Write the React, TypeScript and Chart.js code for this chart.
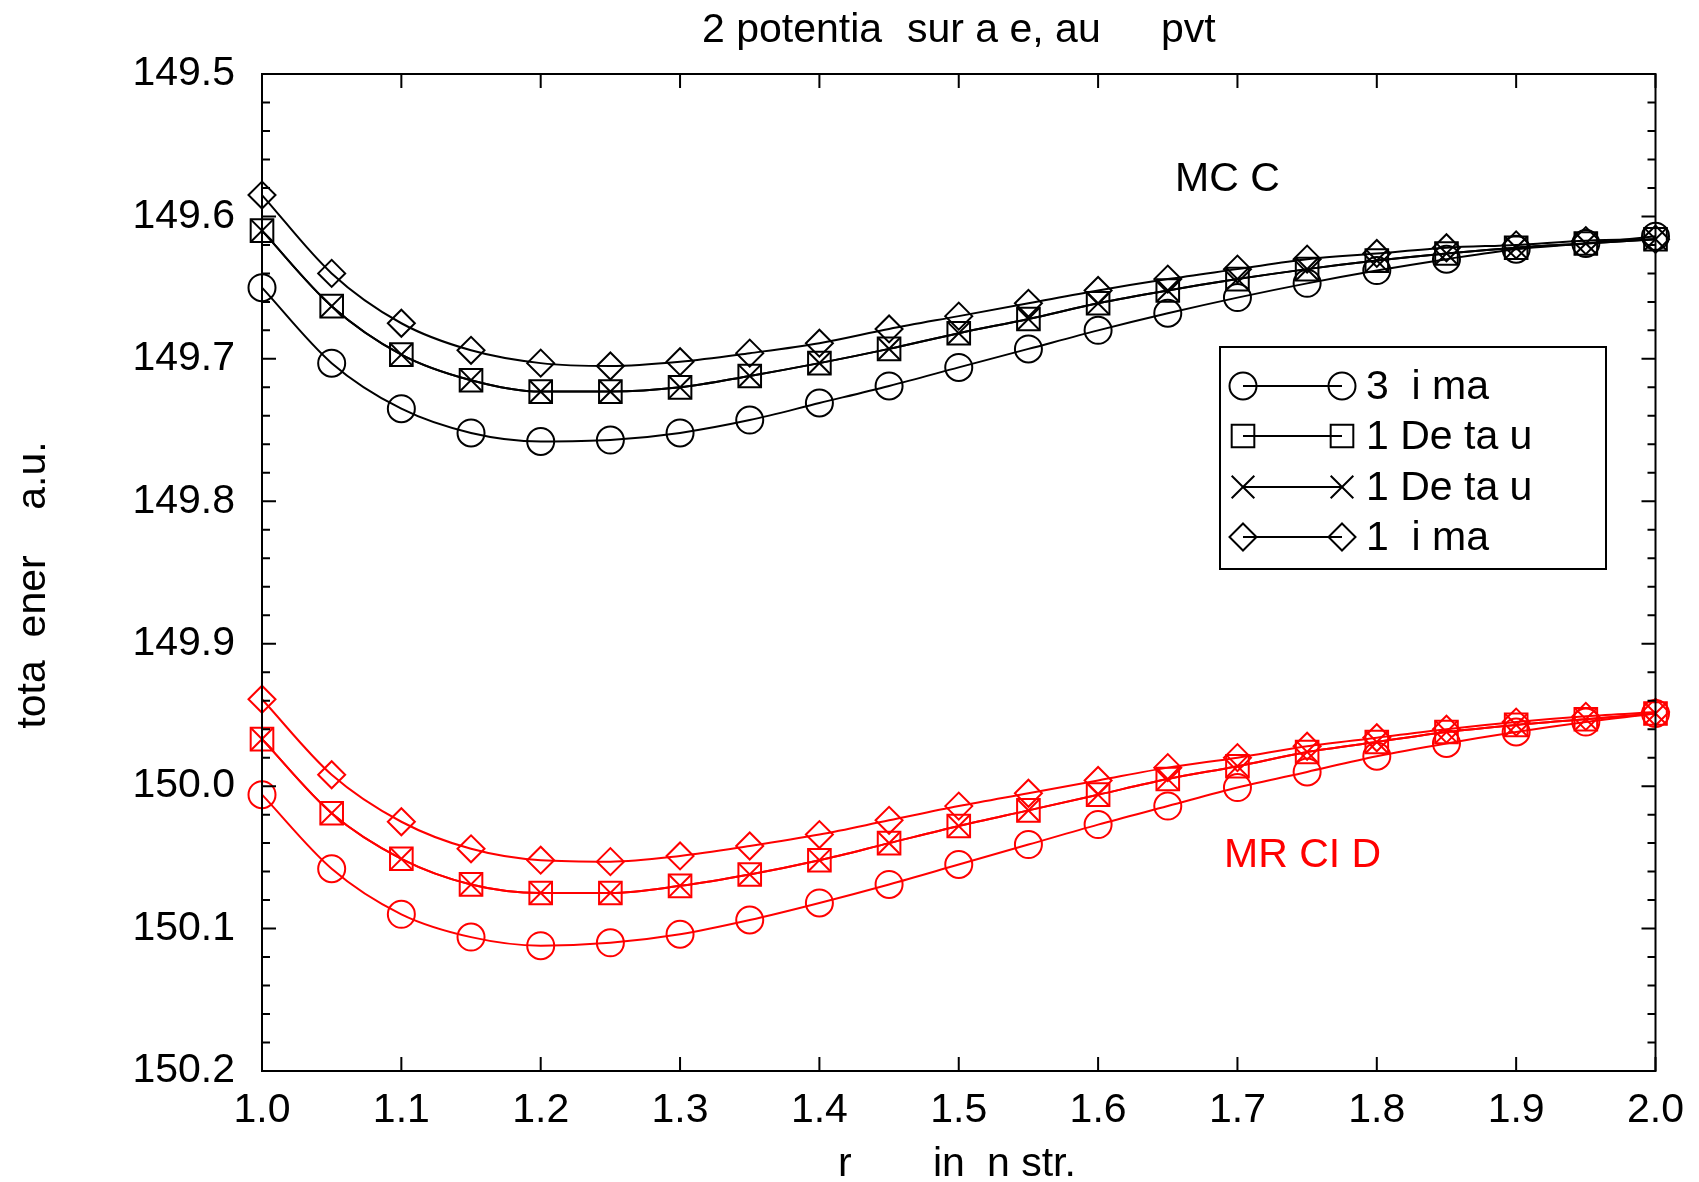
import React, { useEffect, useRef } from 'react';
import { Chart, registerables } from 'chart.js';

Chart.register(...registerables);

// ---------- data ----------
const rValues = [1.0, 1.05, 1.1, 1.15, 1.2, 1.25, 1.3, 1.35, 1.4, 1.45, 1.5, 1.55, 1.6, 1.65, 1.7, 1.75, 1.8, 1.85, 1.9, 1.95, 2.0];

// MC C (black)
const mcTriplet = [149.650, 149.703, 149.735, 149.752, 149.758, 149.757, 149.752, 149.743, 149.731, 149.719, 149.706, 149.693, 149.680, 149.668, 149.657, 149.647, 149.638, 149.630, 149.623, 149.619, 149.614];
const mcDeltaSquare = [149.610, 149.663, 149.697, 149.715, 149.723, 149.723, 149.720, 149.712, 149.703, 149.693, 149.682, 149.672, 149.661, 149.652, 149.644, 149.637, 149.631, 149.626, 149.622, 149.619, 149.616];
const mcDeltaCross = [149.610, 149.663, 149.697, 149.715, 149.723, 149.723, 149.720, 149.712, 149.703, 149.693, 149.682, 149.672, 149.661, 149.652, 149.644, 149.637, 149.631, 149.626, 149.622, 149.619, 149.616];
const mcSinglet = [149.585, 149.640, 149.675, 149.694, 149.703, 149.705, 149.702, 149.696, 149.689, 149.679, 149.670, 149.661, 149.652, 149.644, 149.637, 149.630, 149.626, 149.622, 149.620, 149.617, 149.616];

// MR CI D (red)
const mrTriplet = [150.006, 150.058, 150.090, 150.106, 150.112, 150.110, 150.104, 150.094, 150.082, 150.069, 150.055, 150.041, 150.027, 150.014, 150.001, 149.990, 149.979, 149.970, 149.962, 149.955, 149.949];
const mrDeltaSquare = [149.967, 150.019, 150.051, 150.069, 150.075, 150.075, 150.070, 150.062, 150.052, 150.040, 150.028, 150.017, 150.006, 149.995, 149.986, 149.976, 149.969, 149.962, 149.957, 149.953, 149.949];
const mrDeltaCross = [149.967, 150.019, 150.051, 150.069, 150.075, 150.075, 150.070, 150.062, 150.052, 150.040, 150.028, 150.017, 150.006, 149.995, 149.986, 149.976, 149.969, 149.962, 149.957, 149.953, 149.949];
const mrSinglet = [149.939, 149.992, 150.025, 150.044, 150.052, 150.053, 150.049, 150.042, 150.034, 150.024, 150.014, 150.005, 149.996, 149.987, 149.980, 149.972, 149.966, 149.960, 149.955, 149.951, 149.948];

const seriesLabels = ['3  i ma', '1 De ta u', '1 De ta u', '1  i ma'];
const pointStyles = ['circle', 'rect', 'crossRot', 'rectRot'];
const pointRadii = [13.5, 16, 16, 13.5];

const xTickValues = [1.0, 1.1, 1.2, 1.3, 1.4, 1.5, 1.6, 1.7, 1.8, 1.9, 2.0];
const yMajorValues = [149.5, 149.6, 149.7, 149.8, 149.9, 150.0, 150.1, 150.2];

const titleParts = ['2 potentia', 'sur a e, au', 'pvt'];
const xTitleParts = ['r', 'in', 'n str.'];
const yTitle = 'tota  ener    a.u.';
const mcLabel = 'MC C';
const mrLabel = 'MR CI D';

const FONT = '"Liberation Sans", Arial, Helvetica, sans-serif';
const FS = 41;

function drawMarker(ctx: CanvasRenderingContext2D, style: string, x: number, y: number) {
  ctx.beginPath();
  if (style === 'circle') {
    ctx.arc(x, y, 13.5, 0, Math.PI * 2);
  } else if (style === 'rect') {
    const h = 16 * Math.SQRT1_2;
    ctx.rect(x - h, y - h, 2 * h, 2 * h);
  } else if (style === 'crossRot') {
    const h = 16 * Math.SQRT1_2;
    ctx.moveTo(x - h, y - h); ctx.lineTo(x + h, y + h);
    ctx.moveTo(x - h, y + h); ctx.lineTo(x + h, y - h);
  } else if (style === 'rectRot') {
    const r = 13.5;
    ctx.moveTo(x, y - r); ctx.lineTo(x + r, y); ctx.lineTo(x, y + r); ctx.lineTo(x - r, y); ctx.closePath();
  }
  ctx.stroke();
}

const decorPlugin = {
  id: 'decor',
  afterDraw(chart: any) {
    const { ctx, chartArea, scales } = chart;
    const { left, right, top, bottom } = chartArea;
    const xs = scales.x;
    const ys = scales.y;
    ctx.save();
    ctx.strokeStyle = '#000';
    ctx.lineWidth = 2;
    ctx.strokeRect(left, top, right - left, bottom - top);

    // y ticks (major 0.1, minor 0.02), inward on both sides
    for (let k = 0; k <= 35; k++) {
      const val = 149.5 + k * 0.02;
      const py = ys.getPixelForValue(val);
      const len = k % 5 === 0 ? 14 : 8;
      ctx.beginPath();
      ctx.moveTo(left, py); ctx.lineTo(left + len, py);
      ctx.moveTo(right, py); ctx.lineTo(right - len, py);
      ctx.stroke();
    }
    // x ticks, inward on bottom and top
    xTickValues.forEach((v) => {
      const px = xs.getPixelForValue(v);
      ctx.beginPath();
      ctx.moveTo(px, bottom); ctx.lineTo(px, bottom - 14);
      ctx.moveTo(px, top); ctx.lineTo(px, top + 14);
      ctx.stroke();
    });

    // texts
    ctx.fillStyle = '#000';
    ctx.font = `${FS}px ${FONT}`;
    ctx.textBaseline = 'alphabetic';
    ctx.textAlign = 'left';
    const titleX = [702, 907, 1161];
    titleParts.forEach((t, i) => ctx.fillText(t, titleX[i], 42));

    const xTitleX = [838, 933, 987];
    xTitleParts.forEach((t, i) => ctx.fillText(t, xTitleX[i], 1176));

    ctx.save();
    ctx.translate(34, 585);
    ctx.rotate(-Math.PI / 2);
    ctx.textAlign = 'center';
    ctx.textBaseline = 'middle';
    ctx.fillText(yTitle, 0, 0);
    ctx.restore();

    ctx.fillText(mcLabel, 1175, 191);
    ctx.fillStyle = '#ff0000';
    ctx.fillText(mrLabel, 1224, 867);

    // legend
    ctx.fillStyle = '#000';
    ctx.strokeStyle = '#000';
    ctx.lineWidth = 2;
    ctx.strokeRect(1220, 347, 386, 222);
    const rowY = [386, 436, 487, 537];
    seriesLabels.forEach((lab, i) => {
      const cy = rowY[i];
      ctx.lineWidth = 2;
      ctx.beginPath();
      ctx.moveTo(1243, cy); ctx.lineTo(1342, cy);
      ctx.stroke();
      drawMarker(ctx, pointStyles[i], 1243, cy);
      drawMarker(ctx, pointStyles[i], 1342, cy);
      ctx.textBaseline = 'middle';
      ctx.textAlign = 'left';
      ctx.fillText(lab, 1366, cy + 2);
    });
    ctx.restore();
  },
};

function makeSet(values: number[], idx: number, color: string) {
  return {
    label: seriesLabels[idx],
    data: rValues.map((r, i) => ({ x: r, y: values[i] })),
    borderColor: color,
    borderWidth: 2,
    pointStyle: pointStyles[idx],
    pointRadius: pointRadii[idx],
    pointBorderWidth: 2,
    pointBorderColor: color,
    pointBackgroundColor: 'rgba(0,0,0,0)',
    backgroundColor: 'rgba(0,0,0,0)',
    fill: false,
    cubicInterpolationMode: 'monotone',
    clip: false,
  };
}

export default function App() {
  const ref = useRef<HTMLCanvasElement | null>(null);
  useEffect(() => {
    if (!ref.current) return;
    const chart = new Chart(ref.current, {
      type: 'line',
      data: {
        datasets: [
          makeSet(mcTriplet, 0, '#000000'),
          makeSet(mcDeltaSquare, 1, '#000000'),
          makeSet(mcDeltaCross, 2, '#000000'),
          makeSet(mcSinglet, 3, '#000000'),
          makeSet(mrTriplet, 0, '#ff0000'),
          makeSet(mrDeltaSquare, 1, '#ff0000'),
          makeSet(mrDeltaCross, 2, '#ff0000'),
          makeSet(mrSinglet, 3, '#ff0000'),
        ] as any,
      },
      options: {
        animation: false,
        responsive: false,
        devicePixelRatio: 1,
        layout: { padding: { left: 0, right: 42, top: 74, bottom: 0 } },
        plugins: { legend: { display: false }, title: { display: false }, tooltip: { enabled: false } },
        scales: {
          x: {
            type: 'linear',
            min: 1.0,
            max: 2.0,
            grid: { display: false, drawTicks: false },
            border: { display: false },
            afterBuildTicks: (scale: any) => { scale.ticks = xTickValues.map((v) => ({ value: v })); },
            afterFit: (scale: any) => { scale.height = 111; },
            ticks: {
              color: '#000',
              padding: 15,
              maxRotation: 0,
              autoSkip: false,
              font: { family: FONT, size: FS },
              callback: (v: any) => Number(v).toFixed(1),
            },
          },
          y: {
            type: 'linear',
            reverse: true,
            min: 149.5,
            max: 150.2,
            grid: { display: false, drawTicks: false },
            border: { display: false },
            afterBuildTicks: (scale: any) => { scale.ticks = yMajorValues.map((v) => ({ value: v })); },
            afterFit: (scale: any) => { scale.width = 262; },
            ticks: {
              color: '#000',
              padding: 27,
              autoSkip: false,
              font: { family: FONT, size: FS },
              callback: (v: any) => Number(v).toFixed(1),
            },
          },
        },
      } as any,
      plugins: [decorPlugin],
    });
    return () => chart.destroy();
  }, []);
  return (
    <div style={{ position: 'fixed', left: 0, top: 0, width: 1699, height: 1182, background: '#fff' }}>
      <canvas ref={ref} width={1699} height={1182} style={{ width: 1699, height: 1182, display: 'block' }} />
    </div>
  );
}
